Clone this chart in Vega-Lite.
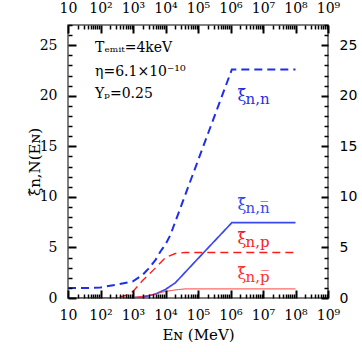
{
  "$schema": "https://vega.github.io/schema/vega-lite/v6.json",
  "width": 260,
  "height": 273,
  "autosize": {"type": "none"},
  "padding": {"left": 68, "top": 25, "right": 34, "bottom": 54},
  "background": "white",
  "config": {"view": {"stroke": "#555", "strokeWidth": 1.5}},
  "datasets": {
    "curves": [
      {"s": "nn", "E": 10, "v": 1.0}, {"s": "nn", "E": 50, "v": 1.0}, {"s": "nn", "E": 100, "v": 1.05},
      {"s": "nn", "E": 300, "v": 1.3}, {"s": "nn", "E": 1000, "v": 1.65}, {"s": "nn", "E": 2000, "v": 2.3},
      {"s": "nn", "E": 3000, "v": 2.9}, {"s": "nn", "E": 5000, "v": 3.8}, {"s": "nn", "E": 7000, "v": 4.6},
      {"s": "nn", "E": 10000, "v": 5.3}, {"s": "nn", "E": 14000, "v": 6.2}, {"s": "nn", "E": 100000, "v": 13.6},
      {"s": "nn", "E": 1100000, "v": 22.6}, {"s": "nn", "E": 100000000, "v": 22.6},
      {"s": "nnbar", "E": 10, "v": 0}, {"s": "nnbar", "E": 100, "v": 0}, {"s": "nnbar", "E": 1000, "v": 0.02},
      {"s": "nnbar", "E": 2000, "v": 0.08}, {"s": "nnbar", "E": 5000, "v": 0.4}, {"s": "nnbar", "E": 10000, "v": 0.85},
      {"s": "nnbar", "E": 20000, "v": 1.5}, {"s": "nnbar", "E": 30000, "v": 2.1}, {"s": "nnbar", "E": 100000, "v": 3.9},
      {"s": "nnbar", "E": 1100000, "v": 7.45}, {"s": "nnbar", "E": 100000000, "v": 7.45},
      {"s": "np", "E": 10, "v": 0}, {"s": "np", "E": 100, "v": 0}, {"s": "np", "E": 300, "v": 0},
      {"s": "np", "E": 600, "v": 0.25}, {"s": "np", "E": 1000, "v": 0.65}, {"s": "np", "E": 2000, "v": 1.75},
      {"s": "np", "E": 3000, "v": 2.3}, {"s": "np", "E": 5000, "v": 3.0}, {"s": "np", "E": 10000, "v": 4.0},
      {"s": "np", "E": 20000, "v": 4.4}, {"s": "np", "E": 40000, "v": 4.5}, {"s": "np", "E": 100000000, "v": 4.5},
      {"s": "npbar", "E": 10, "v": 0}, {"s": "npbar", "E": 300, "v": 0}, {"s": "npbar", "E": 1000, "v": 0.05},
      {"s": "npbar", "E": 3000, "v": 0.25}, {"s": "npbar", "E": 10000, "v": 0.65}, {"s": "npbar", "E": 20000, "v": 0.8},
      {"s": "npbar", "E": 40000, "v": 0.9}, {"s": "npbar", "E": 100000000, "v": 0.9}
    ],
    "labels": [
      {"s": "nn", "E": 1640000, "v": 19.4, "sub": "n,n"},
      {"s": "nnbar", "E": 1640000, "v": 8.6, "sub": "n,n̅"},
      {"s": "np", "E": 1640000, "v": 5.2, "sub": "n,p"},
      {"s": "npbar", "E": 1640000, "v": 1.8, "sub": "n,p̅"}
    ],
    "notes": [
      {"E": 68, "v": 24.3, "t": "Tₑₘᵢₜ=4keV"},
      {"E": 68, "v": 22.0, "t": "η=6.1×10⁻¹⁰"},
      {"E": 68, "v": 19.8, "t": "Yₚ=0.25"}
    ]
  },
  "resolve": {"axis": {"x": "independent", "y": "independent"}},
  "layer": [
    {
      "data": {"name": "curves"},
      "mark": {"type": "line", "clip": true},
      "encoding": {
        "x": {
          "field": "E", "type": "quantitative",
          "scale": {"type": "log", "domain": [10, 1000000000], "nice": false},
          "axis": {
            "orient": "bottom", "offset": -8, "domain": false, "zindex": 1,
            "title": "Eɴ (MeV)",
            "titleFont": "DejaVu Serif", "titleFontSize": 15, "titleFontWeight": "normal", "titleColor": "#000",
            "titlePadding": 5,
            "values": [10, 100, 1000, 10000, 100000, 1000000, 10000000, 100000000, 1000000000],
            "labelExpr": "round(log(datum.value)/LN10) == 1 ? '10' : '10' + ['','','²','³','⁴','⁵','⁶','⁷','⁸','⁹'][round(log(datum.value)/LN10)]",
            "labelOverlap": false, "labelFlush": false,
            "labelFont": "DejaVu Serif", "labelFontSize": 14, "labelColor": "#000",
            "labelPadding": 10,
            "tickSize": 8, "tickColor": "#000", "tickWidth": 2,
            "grid": false
          }
        },
        "y": {
          "field": "v", "type": "quantitative",
          "scale": {"domain": [0, 27], "nice": false, "zero": false},
          "axis": {
            "orient": "left", "offset": -8, "domain": false, "zindex": 1,
            "title": "ξ̃n,N(Eɴ)",
            "titleFont": "DejaVu Serif", "titleFontSize": 15, "titleFontWeight": "normal", "titleColor": "#000",
            "titlePadding": -3,
            "values": [0, 5, 10, 15, 20, 25],
            "labelOverlap": false, "labelFlush": false,
            "labelFont": "DejaVu Serif", "labelFontSize": 14, "labelColor": "#000",
            "labelPadding": 11,
            "tickSize": 8, "tickColor": "#000", "tickWidth": 2,
            "grid": false
          }
        },
        "detail": {"field": "s"},
        "color": {"field": "s", "type": "nominal", "legend": null,
          "scale": {"domain": ["nn", "nnbar", "np", "npbar"], "range": ["#1f2fe8", "#3a46f0", "#ff1a1a", "#ff3030"]}},
        "strokeDash": {"field": "s", "type": "nominal", "legend": null,
          "scale": {"domain": ["nn", "nnbar", "np", "npbar"], "range": [[8, 5], [1, 0], [8, 5], [1, 0]]}},
        "strokeWidth": {"field": "s", "type": "nominal", "legend": null,
          "scale": {"domain": ["nn", "nnbar", "np", "npbar"], "range": [2, 1, 2, 1]}}
      }
    },
    {
      "data": {"name": "labels"},
      "mark": {"type": "text", "text": "ξ̃", "font": "DejaVu Serif", "fontSize": 16, "align": "left", "baseline": "alphabetic", "dy": -1},
      "encoding": {
        "x": {
          "field": "E", "type": "quantitative",
          "axis": {
            "orient": "top", "offset": -8, "domain": false, "title": null, "zindex": 1,
            "values": [10, 100, 1000, 10000, 100000, 1000000, 10000000, 100000000, 1000000000],
            "labelExpr": "round(log(datum.value)/LN10) == 1 ? '10' : '10' + ['','','²','³','⁴','⁵','⁶','⁷','⁸','⁹'][round(log(datum.value)/LN10)]",
            "labelOverlap": false, "labelFlush": false,
            "labelFont": "DejaVu Serif", "labelFontSize": 14, "labelColor": "#000",
            "labelPadding": 10,
            "tickSize": 8, "tickColor": "#000", "tickWidth": 2,
            "grid": false
          }
        },
        "y": {
          "field": "v", "type": "quantitative",
          "axis": {
            "orient": "right", "offset": -7, "domain": false, "title": null, "zindex": 1,
            "values": [0, 5, 10, 15, 20, 25],
            "labelOverlap": false, "labelFlush": false,
            "labelFont": "DejaVu Sans", "labelFontSize": 14, "labelColor": "#000",
            "labelPadding": 11,
            "tickSize": 7, "tickColor": "#000", "tickWidth": 2,
            "grid": false
          }
        },
        "color": {"field": "s", "type": "nominal", "legend": null}
      }
    },
    {
      "data": {"name": "labels"},
      "mark": {"type": "text", "font": "DejaVu Serif", "fontSize": 15, "align": "left", "baseline": "alphabetic", "dx": 8, "dy": 2},
      "encoding": {
        "x": {"field": "E", "type": "quantitative",
          "axis": {
            "orient": "bottom", "offset": -4, "title": null, "labels": false, "domain": false, "grid": false, "zindex": 1,
            "values": [20,30,40,50,60,70,80,90,200,300,400,500,600,700,800,900,2000,3000,4000,5000,6000,7000,8000,9000,20000,30000,40000,50000,60000,70000,80000,90000,200000,300000,400000,500000,600000,700000,800000,900000,2000000,3000000,4000000,5000000,6000000,7000000,8000000,9000000,20000000,30000000,40000000,50000000,60000000,70000000,80000000,90000000,200000000,300000000,400000000,500000000,600000000,700000000,800000000,900000000],
            "tickSize": 4, "tickColor": "#000", "tickWidth": 1.5
          }
        },
        "y": {"field": "v", "type": "quantitative",
          "axis": {
            "orient": "left", "offset": -4, "title": null, "labels": false, "domain": false, "grid": false, "zindex": 1,
            "values": [1,2,3,4,6,7,8,9,11,12,13,14,16,17,18,19,21,22,23,24,26,27],
            "tickSize": 4, "tickColor": "#000", "tickWidth": 1.5
          }
        },
        "text": {"field": "sub"},
        "color": {"field": "s", "type": "nominal", "legend": null}
      }
    },
    {
      "data": {"name": "notes"},
      "mark": {"type": "text", "font": "DejaVu Serif", "fontSize": 14, "align": "left", "baseline": "alphabetic", "color": "#000"},
      "encoding": {
        "x": {"field": "E", "type": "quantitative",
          "axis": {
            "orient": "top", "offset": -4, "title": null, "labels": false, "domain": false, "grid": false, "zindex": 1,
            "values": [20,30,40,50,60,70,80,90,200,300,400,500,600,700,800,900,2000,3000,4000,5000,6000,7000,8000,9000,20000,30000,40000,50000,60000,70000,80000,90000,200000,300000,400000,500000,600000,700000,800000,900000,2000000,3000000,4000000,5000000,6000000,7000000,8000000,9000000,20000000,30000000,40000000,50000000,60000000,70000000,80000000,90000000,200000000,300000000,400000000,500000000,600000000,700000000,800000000,900000000],
            "tickSize": 4, "tickColor": "#000", "tickWidth": 1.5
          }
        },
        "y": {"field": "v", "type": "quantitative",
          "axis": {
            "orient": "right", "offset": -4, "title": null, "labels": false, "domain": false, "grid": false, "zindex": 1,
            "values": [1,2,3,4,6,7,8,9,11,12,13,14,16,17,18,19,21,22,23,24,26,27],
            "tickSize": 4, "tickColor": "#000", "tickWidth": 1.5
          }
        },
        "text": {"field": "t"}
      }
    }
  ]
}
